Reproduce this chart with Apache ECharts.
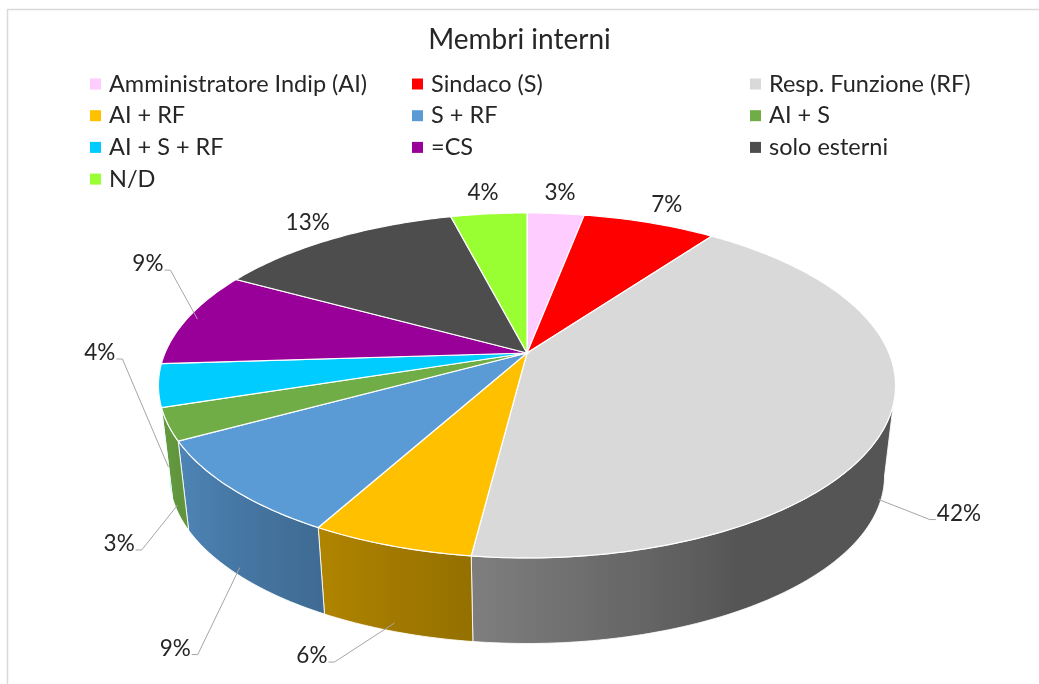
<!DOCTYPE html>
<html><head><meta charset="utf-8">
<script src="https://cdn.jsdelivr.net/npm/echarts@6/dist/echarts.min.js"></script>
<style>html,body{margin:0;padding:0;background:#fff}#c{width:1039px;height:684px}</style>
</head><body><div id="c"></div>
<script>
// ---- data ----
const titleText = 'Membri interni';
const categories = ['Amministratore Indip (AI)','Sindaco (S)','Resp. Funzione (RF)','AI + RF','S + RF','AI + S','AI + S + RF','=CS','solo esterni','N/D'];
const values = [3, 7, 42, 6, 9, 3, 4, 9, 13, 4];
const colors = ['#FFCCFF','#FF0000','#D9D9D9','#FFC000','#5B9BD5','#70AD47','#00CCFF','#990099','#4D4D4D','#99FF33'];
// legend columns (indices into categories)
const legendColumns = [[0,3,6,9],[1,4,7],[2,5,8]];

// ---- layout / style (not data) ----
const CX = 527, CY = 353, R = 362, RY = 166.4, K = 0.188, DEPTH = 91.7, SB = 0.97;
const FONT = 'Lato, "Open Sans", sans-serif';
const TEXT = '#262626';
const LABEL_SIZE = 22.5, LEGEND_SIZE = 23.5, TITLE_SIZE = 28;
// leader-line vectors for labels that use a leader (null = placed just outside the rim)
const leaderVec = [null, null, [51,20], [-60,39], [-42,87], [-36,45], [-46,-108], [-27,-49], null, null];

const total = values.reduce((a,b)=>a+b,0);
let acc = 0;
const seriesData = values.map((v,i)=>{ const s = acc/total; acc += v; return {name: categories[i], value:[s, acc/total, v]}; });

const S0 = Math.acos(-K), S1 = 2*Math.PI - S0;
function proj(t, r, bottom){
  const u = r*Math.sin(t), v = -r*Math.cos(t);
  const w = 1 - K*v;
  const s = bottom ? SB : 1;
  return [CX + s*R*u/w, CY + (bottom?DEPTH:0) + s*RY*v/w];
}
function bright(t){
  const d = t*180/Math.PI;
  return 0.39 + 0.49*Math.min(1, Math.max(0, (d-150)/95));
}
function shade(hex, f){
  const n = parseInt(hex.slice(1),16);
  const r=(n>>16)&255, g=(n>>8)&255, b=n&255;
  return 'rgb('+Math.round(r*f)+','+Math.round(g*f)+','+Math.round(b*f)+')';
}

function renderItem(params, api){
  const i = params.dataIndex;
  const a0 = api.value(0)*2*Math.PI, a1 = api.value(1)*2*Math.PI;
  const val = api.value(2);
  const base = colors[i];
  const children = [];
  // visible outer side
  const b0 = Math.max(a0, S0), b1 = Math.min(a1, S1);
  if (b1 > b0){
    const n = Math.max(2, Math.ceil((b1-b0)/(Math.PI/180)));
    const top=[], bot=[], ts=[];
    for (let j=0;j<=n;j++){ const t=b0+(b1-b0)*j/n; ts.push(t); top.push(proj(t,1,false)); bot.push(proj(t,1,true)); }
    const pts = top.concat(bot.slice().reverse());
    let xmin=Infinity,xmax=-Infinity; pts.forEach(p=>{xmin=Math.min(xmin,p[0]);xmax=Math.max(xmax,p[0]);});
    const stops = top.map((p,j)=>({offset: Math.min(1,Math.max(0,(p[0]-xmin)/Math.max(1,xmax-xmin))), color: shade(base, bright(ts[j]))}));
    stops.sort((a,b)=>a.offset-b.offset);
    children.push({type:'polygon', shape:{points:pts},
      style:{fill:{type:'linear',x:xmin,y:0,x2:xmax,y2:0,global:true,colorStops:stops}, stroke:'rgba(255,255,255,0.85)', lineWidth:1}});
  }
  // top face
  const n2 = Math.max(2, Math.ceil((a1-a0)/(Math.PI/180)));
  const tp = [[CX,CY]];
  for (let j=0;j<=n2;j++){ tp.push(proj(a0+(a1-a0)*j/n2,1,false)); }
  children.push({type:'polygon', shape:{points:tp}, style:{fill:base, stroke:'#ffffff', lineWidth:1.2}});
  // label
  const txt = Math.round(val/total*100)+'%';
  const tm = (a0+a1)/2;
  const lv = leaderVec[i];
  if (!lv){
    const p = proj(tm,1,false);
    let dx=p[0]-CX, dy=p[1]-CY; const L=Math.hypot(dx,dy); dx/=L; dy/=L;
    const hw = txt.length*6.5, hh = 11;
    const dist = 8 + Math.abs(dx)*hw + Math.abs(dy)*hh;
    children.push({type:'text', x:p[0]+dx*dist, y:p[1]+dy*dist,
      style:{text:txt, fill:TEXT, fontSize:LABEL_SIZE, fontFamily:FONT, align:'center', verticalAlign:'middle'}});
  } else {
    let anc;
    if (tm >= S0 - 1e-3 && tm <= S1 + 1e-3){
      const pt = proj(tm,1,false), pb = proj(tm,1,true);
      anc = [pt[0]+(pb[0]-pt[0])*0.9, pt[1]+(pb[1]-pt[1])*0.9];
    } else {
      anc = proj(tm,0.97,false);
    }
    const el = [anc[0]+lv[0], anc[1]+lv[1]];
    const sg = lv[0] >= 0 ? 1 : -1;
    const end = [el[0]+sg*6, el[1]];
    children.push({type:'polyline', shape:{points:[anc, el, end]}, style:{stroke:'#a6a6a6', lineWidth:1, fill:null}});
    children.push({type:'text', x:end[0]+sg*1, y:el[1]-6,
      style:{text:txt, fill:TEXT, fontSize:LABEL_SIZE, fontFamily:FONT, align: sg>0?'left':'right', verticalAlign:'middle'}});
  }
  return {type:'group', children};
}

const colLeft = [90, 412, 750];
const legends = legendColumns.map((col,c)=>({
  orient:'vertical', left: colLeft[c], top: 72, padding: 0,
  itemWidth: 11, itemHeight: 11, itemGap: 7.7, icon: 'rect', selectedMode: false,
  textStyle: {fontSize: LEGEND_SIZE, fontFamily: FONT, color: TEXT, lineHeight: 24, padding:[0,0,0,3]},
  data: col.map(k=>categories[k])
}));

const chart = echarts.init(document.getElementById('c'), null, {renderer:'canvas'});
chart.setOption({
  backgroundColor: '#ffffff',
  animation: false,
  title: {text: titleText, left: 'center', top: 26, padding: 0,
    textStyle: {fontSize: TITLE_SIZE, fontWeight: 'normal', fontFamily: FONT, color: TEXT}},
  legend: legends,
  graphic: [{type:'rect', silent:true, z:-10, shape:{x:7.5, y:9.5, width:1200, height:900},
    style:{fill:'none', stroke:'#d9d9d9', lineWidth:1.5}}],
  series: [
    {type:'pie', name:'legend', radius:[0,0], center:[CX,CY], silent:true,
      label:{show:false}, labelLine:{show:false},
      data: categories.map((nm,i)=>({name:nm, value:values[i], itemStyle:{color:colors[i]}}))},
    {type:'custom', name: titleText, coordinateSystem:'none', renderItem, data: seriesData, silent:true}
  ]
});
</script></body></html>
